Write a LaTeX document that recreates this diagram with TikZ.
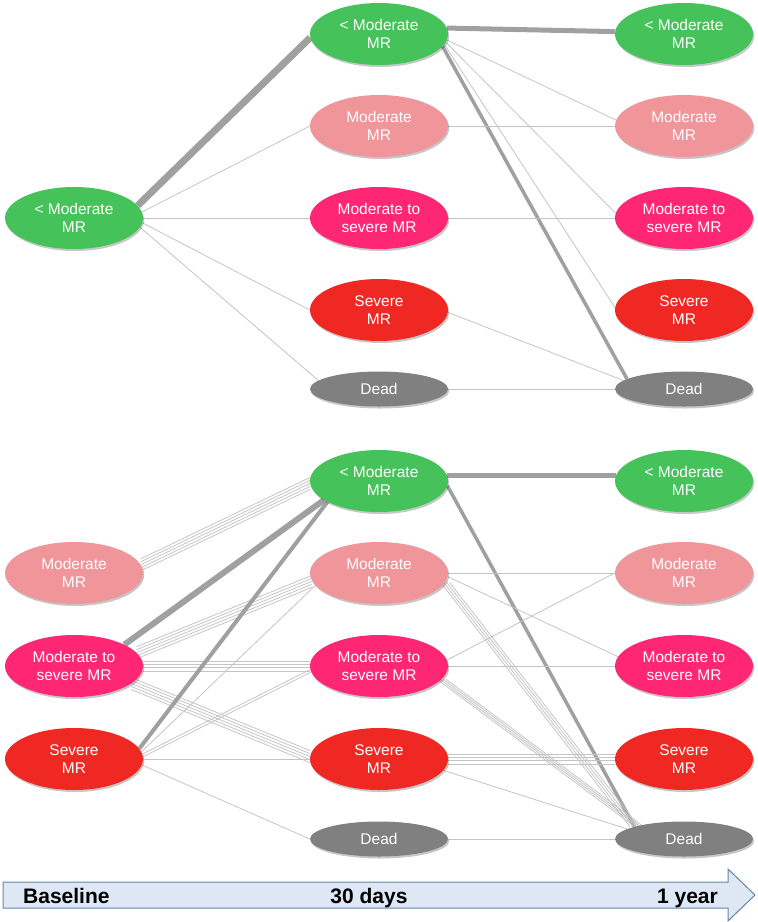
\documentclass[tikz,border=0pt]{standalone}
\usepackage{fontspec}
\newfontfamily\lsans{Liberation Sans}
\usetikzlibrary{shapes.geometric,shadows,backgrounds}
\definecolor{cgreen}{HTML}{45C25A}
\definecolor{cpink}{HTML}{F0969B}
\definecolor{chot}{HTML}{FF2673}
\definecolor{cred}{HTML}{F02823}
\definecolor{cdead}{HTML}{808080}
\definecolor{cthin}{HTML}{C4C4C4}
\definecolor{cthick}{HTML}{A0A0A0}
\definecolor{afill}{HTML}{DDE8F4}
\definecolor{aedge}{HTML}{6485AC}
\newcommand\linebundle[4]{%
  \foreach \s in {#1} {\draw[fine, transform canvas={#2=\s pt}] (#3) -- (#4);}}
\begin{document}
\begin{tikzpicture}[x=1pt,y=-1pt,
  mr/.style={ellipse, minimum width=138pt, minimum height=62pt, inner sep=0pt,
    text=white, align=center, font=\lsans\fontsize{15.5}{18}\selectfont,
    drop shadow={shadow xshift=1.2pt, shadow yshift=-2pt, opacity=0.22, fill=black}},
  lessmr/.style={mr, fill=cgreen},
  modmr/.style={mr, fill=cpink},
  msmr/.style={mr, fill=chot},
  sevmr/.style={mr, fill=cred},
  deadmr/.style={mr, fill=cdead, minimum height=35pt},
  fine/.style={draw=cthin, line width=0.8pt},
  heavy/.style={draw=cthick},
  axlabel/.style={font=\lsans\bfseries\fontsize{21}{24}\selectfont, text=black, inner sep=0pt}]
\useasboundingbox (0,0) rectangle (758,922);

% ---------- top panel ----------
\node[lessmr] (tL1) at (74,218) {< Moderate\\MR};
\node[lessmr] (tM1) at (379,34) {< Moderate\\MR};
\node[modmr]  (tM2) at (379,126) {Moderate\\MR};
\node[msmr]   (tM3) at (379,218) {Moderate to\\severe MR};
\node[sevmr]  (tM4) at (379,310) {Severe\\MR};
\node[deadmr] (tM5) at (379,389) {Dead};
\node[lessmr] (tR1) at (684,34) {< Moderate\\MR};
\node[modmr]  (tR2) at (684,126) {Moderate\\MR};
\node[msmr]   (tR3) at (684,218) {Moderate to\\severe MR};
\node[sevmr]  (tR4) at (684,310) {Severe\\MR};
\node[deadmr] (tR5) at (684,389) {Dead};

% ---------- bottom panel ----------
\node[modmr]  (bL2) at (74,573) {Moderate\\MR};
\node[msmr]   (bL3) at (74,666) {Moderate to\\severe MR};
\node[sevmr]  (bL4) at (74,759) {Severe\\MR};
\node[lessmr] (bM1) at (379,481) {< Moderate\\MR};
\node[modmr]  (bM2) at (379,573) {Moderate\\MR};
\node[msmr]   (bM3) at (379,666) {Moderate to\\severe MR};
\node[sevmr]  (bM4) at (379,759) {Severe\\MR};
\node[deadmr] (bM5) at (379,839) {Dead};
\node[lessmr] (bR1) at (684,481) {< Moderate\\MR};
\node[modmr]  (bR2) at (684,573) {Moderate\\MR};
\node[msmr]   (bR3) at (684,666) {Moderate to\\severe MR};
\node[sevmr]  (bR4) at (684,759) {Severe\\MR};
\node[deadmr] (bR5) at (684,839) {Dead};

\begin{scope}[on background layer]
% top: baseline -> 30 days
\draw[heavy, line width=7pt] (tL1.11) -- (tM1.183);
\draw[fine] (tL1.5) -- (tM2.west);
\draw[fine] (tL1.east) -- (tM3.west);
\draw[fine] (tL1.-4) -- (tM4.west);
\draw[fine] (tL1.-8) -- (tM5.172);
% top: 30 days -> 1 year
\draw[heavy, line width=5pt] (tM1.5) -- (tR1.178);
\draw[fine] (tM1.-5) -- (tR2.175);
\draw[fine] (tM1.-7) -- (tR3.176);
\draw[fine] (tM1.-9) -- (tR4.178);
\draw[heavy, line width=3.5pt] (tM1.-11) -- (tR5.170);
\draw[fine] (tM2.east) -- (tR2.west);
\draw[fine] (tM3.east) -- (tR3.west);
\draw[fine] (tM4.-2) -- (tR5.172);
\draw[fine] (tM5.east) -- (tR5.west);

% bottom: baseline -> 30 days
\linebundle{-6,-3,0,3,6}{yshift}{bL2.7}{bM1.182}
\draw[heavy, line width=6pt] (bL3.23) -- (bM1.199);
\linebundle{-6,-3,0,3,6}{yshift}{bL3.12}{bM2.187}
\linebundle{-5,-1.7,1.7,5}{yshift}{bL3.east}{bM3.west}
\linebundle{-6,-3,0,3,6}{yshift}{bL3.-17}{bM4.178}
\draw[heavy, line width=4pt] (bL4.9) -- (bM1.202);
\draw[fine] (bL4.6) -- (bM2.191);
\linebundle{-1.5,1.5}{yshift}{bL4.3}{bM3.184}
\draw[fine] (bL4.east) -- (bM4.west);
\draw[fine] (bL4.-5) -- (bM5.west);

% bottom: 30 days -> 1 year
\draw[heavy, line width=5pt] (bM1.5) -- (bR1.175);
\draw[heavy, line width=3.5pt] (bM1.-4) -- (bR5.166);
\draw[fine] (bM2.east) -- (bR2.west);
\draw[fine] (bM2.-3) -- (bR3.172);
\linebundle{-4.5,-1.5,1.5,4.5}{xshift}{bM2.-8}{bR5.166}
\draw[fine] (bM3.5) -- (bR2.west);
\draw[fine] (bM3.east) -- (bR3.west);
\linebundle{-4.5,-1.5,1.5,4.5}{xshift}{bM3.-12}{bR5.164}
\linebundle{-5,-1.7,1.7,5}{yshift}{bM4.east}{bR4.west}
\draw[fine] (bM4.-10) -- (bR5.170);
\draw[fine] (bM5.east) -- (bR5.west);
\end{scope}

% ---------- time axis ----------
\draw[fill=afill, draw=aedge, line width=1pt, line join=miter]
  (3,882) -- (728,882) -- (728,869) -- (755,895) -- (728,921) -- (728,908) -- (3,908) -- cycle;
\node[axlabel, anchor=base west] (t0) at (23,903) {Baseline};
\node[axlabel, anchor=base] (t1) at (369,903) {30 days};
\node[axlabel, anchor=base east] (t2) at (718,903) {1 year};
\end{tikzpicture}
\end{document}
